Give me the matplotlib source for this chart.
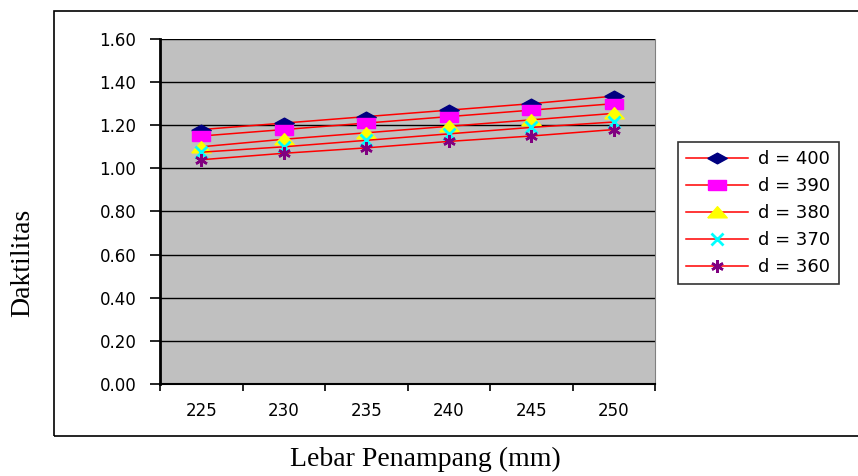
import numpy as np
import matplotlib.pyplot as plt
from matplotlib.patches import Rectangle

# data
lebar = ["225", "230", "235", "240", "245", "250"]
d400 = [1.18, 1.21, 1.24, 1.27, 1.30, 1.335]
d390 = [1.15, 1.18, 1.21, 1.24, 1.27, 1.30]
d380 = [1.10, 1.135, 1.165, 1.195, 1.225, 1.255]
d370 = [1.075, 1.10, 1.13, 1.16, 1.19, 1.215]
d360 = [1.04, 1.07, 1.095, 1.125, 1.15, 1.18]

labels = ["d = 400", "d = 390", "d = 380", "d = 370", "d = 360"]
series = [d400, d390, d380, d370, d360]

# flattened markers, the excel picture is squeezed vertically
diamond = [(-1, 0), (0, 0.55), (1, 0), (0, -0.55), (-1, 0)]
rect = [(-1, -0.55), (1, -0.55), (1, 0.55), (-1, 0.55), (-1, -0.55)]
tri = [(-1, -0.55), (1, -0.55), (0, 0.6), (-1, -0.55)]
# marker, colour, size, edge width
styles = [(diamond, "#000080", 14, 1), (rect, "#FF00FF", 13, 1), (tri, "#FFFF00", 14, 1),
          ("x", "#00FFFF", 8, 2), ((6, 2, 0), "#800080", 9, 1.8)]

SANS = "DejaVu Sans"
SERIF = "Liberation Serif"

fig = plt.figure(figsize=(8.58, 4.76), dpi=100)
ax = fig.add_axes([0.1865, 0.1933, 0.577, 0.7248])

# outer chart frame
fig.patches.append(Rectangle((54 / 858, 1 - 436 / 476), 1.0, (436 - 11) / 476,
                             transform=fig.transFigure, fill=False,
                             edgecolor="black", linewidth=1.2, zorder=0))

x = np.arange(len(lebar))
for y, lab, (m, c, s, ew) in zip(series, labels, styles):
    ax.plot(x, y, color="red", linewidth=1.1, marker=m, markersize=s,
            markerfacecolor=c, markeredgecolor=c, markeredgewidth=ew,
            label=lab, zorder=3)

ax.set_facecolor("#C0C0C0")
ax.set_xlim(-0.5, len(lebar) - 0.5)
ax.set_ylim(0, 1.6)
yt = np.arange(0, 1.61, 0.2)
ax.set_yticks(yt)
ax.set_yticklabels([f"{v:.2f}" for v in yt], fontfamily=SANS, fontsize=12)
ax.yaxis.grid(True, color="black", linewidth=1)
ax.set_axisbelow(True)

ax.set_xticks(np.arange(-0.5, len(lebar)), labels=[])
ax.set_xticks(x, labels=lebar, minor=True)
ax.tick_params(axis="x", which="minor", length=0, pad=13, labelsize=12)
ax.tick_params(axis="x", which="major", length=5, width=1.2)
ax.tick_params(axis="y", length=7, width=1.2, pad=10)
for t in ax.get_xticklabels(minor=True):
    t.set_fontfamily(SANS)

ax.spines["left"].set_linewidth(2)
ax.spines["bottom"].set_linewidth(1.5)
ax.spines["top"].set_visible(False)
ax.spines["right"].set_color("#808080")

ax.set_xlabel("Lebar Penampang (mm)", fontfamily=SERIF, fontsize=20, va="center")
ax.xaxis.set_label_coords(0.535, -0.22)
ax.set_ylabel("Daktilitas", fontfamily=SERIF, fontsize=20, va="center")
ax.yaxis.set_label_coords(-0.277, 0.35)

leg = ax.legend(loc="upper left", bbox_to_anchor=(678 / 858, 1 - 142 / 476),
                bbox_transform=fig.transFigure, frameon=True, fancybox=False,
                prop={"family": SANS, "size": 13}, handlelength=3.4,
                labelspacing=0.5, borderpad=0.45, handletextpad=0.6, borderaxespad=0)
leg.get_frame().set_edgecolor("black")
leg.get_frame().set_linewidth(1.2)

plt.savefig("out.png", dpi=100)
